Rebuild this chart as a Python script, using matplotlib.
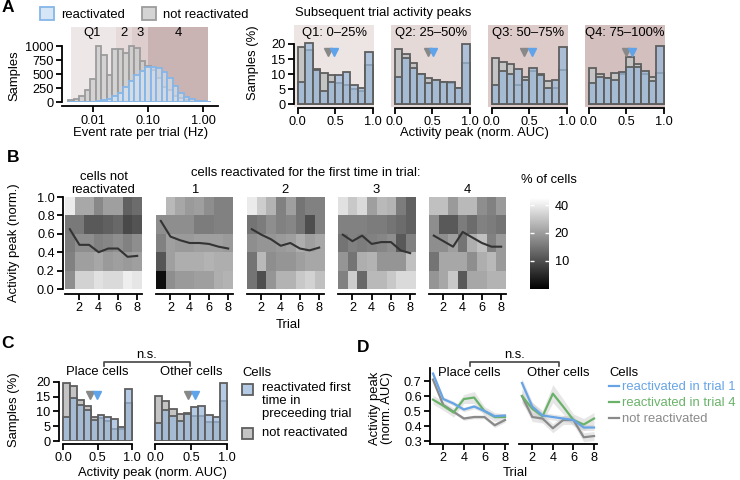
import matplotlib
matplotlib.use('Agg')
import matplotlib.pyplot as plt
from matplotlib.colors import LogNorm
from matplotlib.patches import Patch, Rectangle
from matplotlib.lines import Line2D
from matplotlib.ticker import NullLocator
import numpy as np

plt.rcParams['font.family'] = ['Liberation Sans', 'DejaVu Sans']
plt.rcParams['font.size'] = 9.3
FS = 9.4   # general text
TS = 9.2   # tick labels

# ---- data ----
# A left: event rate histograms (log bins of 0.1 decade starting at 10^-2.45)
rate_not_react = [40, 65, 110, 220, 410, 1000, 840, 490, 950, 950, 870, 1000, 970,
                  730, 640, 580, 430, 280, 220, 110, 70, 40, 10, 0, 0, 0]
rate_react = [0, 0, 3, 5, 10, 20, 35, 60, 110, 170, 270, 380, 480, 560, 620, 620,
              610, 540, 430, 290, 170, 100, 55, 30, 15, 8]
quartile_edges = [0.004, 0.026, 0.051, 0.1, 1.23]
quartile_names = ['Q1', '2', '3', '4']

# A right: activity peaks per quartile
q_titles = ['Q1: 0–25%', 'Q2: 25–50%', 'Q3: 50–75%', 'Q4: 75–100%']
q_not_react = [
    [19.0, 18.1, 11.7, 10.3, 9.6, 7.0, 6.3, 5.2, 4.4, 13.0],
    [18.3, 16.6, 13.8, 9.9, 8.8, 8.0, 7.3, 7.0, 5.4, 13.6],
    [15.5, 14.0, 13.4, 6.5, 8.9, 11.0, 10.2, 7.8, 5.5, 11.5],
    [11.9, 10.0, 8.8, 10.4, 10.2, 15.8, 13.4, 10.0, 9.1, 10.4]]
q_react = [
    [7.5, 20.3, 11.5, 4.5, 7.3, 9.8, 10.8, 6.5, 5.4, 17.2],
    [9.0, 15.3, 12.2, 9.9, 7.1, 8.0, 7.3, 7.3, 5.4, 20.0],
    [6.5, 11.1, 10.0, 11.6, 8.0, 12.1, 9.6, 5.5, 8.0, 19.1],
    [7.1, 9.1, 8.8, 8.0, 10.8, 12.5, 12.5, 11.1, 7.6, 19.4]]
q_med_not = [0.41, 0.45, 0.43, 0.50]
q_med_react = [0.49, 0.51, 0.54, 0.58]

# B: % of cells per activity-peak bin (rows: 0-0.2 ... 0.8-1.0) x trial 1..8
heat_titles = ['cells not\nreactivated', '1', '2', '3', '4']
heat_not = [[17.4, 32, 32, 36.6, 34.3, 34.3, 41, 38.3],
            [15.5, 20.3, 20.3, 21.8, 19.4, 20.3, 19.4, 20.3],
            [14.8, 17.4, 17.4, 15.5, 16.2, 17.4, 15.5, 17.4],
            [14.5, 14.5, 11, 11, 11.6, 12.4, 9.4, 10.3],
            [40, 22, 22, 16.6, 20.3, 20.3, 11.8, 12.9]]
heat_t1 = [[5.6, 17.4, 19.4, 19.4, 20.3, 20.3, 23.3, 24.4],
           [10.5, 20.3, 23.3, 23.3, 23.3, 24.4, 23.3, 23.3],
           [15.5, 20.3, 19.4, 19.4, 20.3, 20.3, 20.3, 19.4],
           [17.4, 17.4, 17.4, 17.4, 14.8, 14.8, 15.5, 15.5],
           [55, 25.5, 21.8, 19.4, 20.3, 17.4, 15.5, 15.5]]
heat_t2 = [[13.8, 9.9, 18.6, 24.4, 24.4, 29.2, 32, 27.3],
           [13.8, 25.5, 17.4, 18.6, 18.6, 20.3, 21.8, 21.8],
           [17.4, 18.6, 18.6, 19.4, 20.3, 23.3, 20.3, 21.8],
           [13.8, 14.8, 17.4, 15.5, 16.2, 13.8, 9.9, 15.5],
           [40, 30.6, 24.4, 15.5, 20.3, 13.8, 15.5, 15.5]]
heat_t3 = [[15.5, 30.6, 12.4, 25.5, 25.5, 29.2, 34.3, 34.3],
           [18.6, 13.8, 23.3, 24.4, 18.6, 18.6, 18.6, 27.3],
           [13.8, 15.5, 14.8, 15.5, 16.2, 17.4, 11, 15.5],
           [15.5, 15.5, 15.5, 14.8, 14.8, 13.8, 12.9, 11.8],
           [36.6, 29.2, 34.3, 20.3, 25.5, 24.4, 14.8, 11.8]]
heat_t4 = [[18.6, 21.8, 29.2, 11, 21.8, 21.8, 24.4, 24.4],
           [13.8, 21.8, 21.8, 21.8, 17.4, 23.3, 25.5, 19.4],
           [17.4, 17.4, 20.3, 13.8, 23.3, 27.3, 15.5, 19.4],
           [17.4, 11, 11, 14.8, 12.9, 15.5, 14.8, 13.8],
           [27.3, 27.3, 19.4, 25.5, 25.5, 17.4, 15.5, 19.4]]
mean_not = [0.65, 0.48, 0.48, 0.40, 0.44, 0.44, 0.35, 0.36]
mean_t1 = [0.74, 0.57, 0.53, 0.50, 0.50, 0.49, 0.46, 0.44]
mean_t2 = [0.65, 0.59, 0.54, 0.47, 0.50, 0.44, 0.42, 0.45]
mean_t3 = [0.59, 0.52, 0.58, 0.49, 0.51, 0.51, 0.42, 0.39]
mean_t4 = [0.58, 0.52, 0.46, 0.62, 0.56, 0.50, 0.46, 0.46]
trials = [1, 2, 3, 4, 5, 6, 7, 8]

# C: place vs other cells
place_not = [19.7, 18.5, 13.8, 11.9, 8.0, 7.9, 6.8, 4.2, 4.2, 13.0]
place_react = [8.2, 14.5, 12.1, 10.4, 7.1, 8.7, 8.0, 7.3, 4.6, 17.5]
other_not = [15.2, 13.6, 10.8, 9.3, 9.6, 8.4, 8.4, 6.3, 6.3, 13.6]
other_react = [6.2, 10.5, 8.4, 6.9, 9.1, 11.6, 11.8, 8.8, 8.0, 19.7]
c_med_not = [0.39, 0.46]
c_med_react = [0.49, 0.56]

# D: mean activity peak per trial (and sem)
place_t1 = [0.75, 0.58, 0.55, 0.51, 0.53, 0.50, 0.465, 0.47]
place_t4 = [0.576, 0.535, 0.49, 0.58, 0.59, 0.50, 0.46, 0.46]
place_nr = [0.71, 0.54, 0.495, 0.45, 0.46, 0.46, 0.405, 0.44]
other_t1 = [0.687, 0.53, 0.47, 0.46, 0.45, 0.44, 0.39, 0.39]
other_t4 = [0.60, 0.515, 0.465, 0.616, 0.53, 0.44, 0.41, 0.45]
other_nr = [0.60, 0.46, 0.45, 0.385, 0.44, 0.44, 0.325, 0.333]
place_t1_sem = [0.02, 0.015, 0.015, 0.015, 0.015, 0.015, 0.015, 0.015]
place_t4_sem = [0.03, 0.03, 0.03, 0.03, 0.04, 0.03, 0.03, 0.02]
place_nr_sem = [0.02, 0.015, 0.012, 0.012, 0.012, 0.012, 0.015, 0.015]
other_t1_sem = [0.03, 0.03, 0.02, 0.02, 0.02, 0.02, 0.02, 0.02]
other_t4_sem = [0.05, 0.04, 0.04, 0.06, 0.05, 0.04, 0.04, 0.04]
other_nr_sem = [0.04, 0.03, 0.03, 0.03, 0.03, 0.03, 0.03, 0.03]

# ---- helpers ----
W, H = 740, 480
def rect(x0, y0, x1, y1):
    return [x0 / W, 1 - y1 / H, (x1 - x0) / W, (y1 - y0) / H]

def fx(x):
    return x / W

def fy(y):
    return 1 - y / H

def style(ax, left=True, lpad=0, bpad=0):
    ax.spines['top'].set_visible(False)
    ax.spines['right'].set_visible(False)
    for s in ('left', 'bottom'):
        ax.spines[s].set_linewidth(1.3)
    ax.spines['left'].set_position(('outward', lpad * 0.72))
    ax.spines['bottom'].set_position(('outward', bpad * 0.72))
    ax.tick_params(width=1.3, length=4, labelsize=TS, pad=2)
    if not left:
        ax.spines['left'].set_visible(False)
        ax.tick_params(left=False, labelleft=False)

GRAY_FC = '#c4c4c4'
BLUE_FC = (0.60, 0.72, 0.86, 0.72)
EDGE = '#5e5e5e'
centers = np.arange(10) * 0.1 + 0.05

def peak_hist(ax, nr, re, med_nr, med_re, ytri):
    ax.bar(centers, nr, width=0.1, color=GRAY_FC, edgecolor=EDGE, lw=1.3)
    ax.bar(centers, re, width=0.1, color=BLUE_FC, edgecolor=EDGE, lw=1.3)
    ax.plot([med_nr], [ytri], marker='v', ms=6, color='#888888', ls='none')
    ax.plot([med_re], [ytri], marker='v', ms=6, color='#5fa3ea', ls='none')
    ax.set_xticks([0, 0.5, 1.0])
    ax.set_xticklabels(['0.0', '0.5', '1.0'])
    ax.spines['bottom'].set_bounds(0, 1)

fig = plt.figure(figsize=(7.4, 4.8), dpi=100)

# ---- panel A left ----
ax = fig.add_axes(rect(62, 27, 218, 102.3))
style(ax, bpad=4)
ax.set_xscale('log')
ax.set_xlim(10 ** -2.564, 10 ** 0.273)
ax.set_ylim(0, 1340)
shade = ['#eee7e7', '#e6dada', '#ddcdcd', '#cab3b3']
q_label_x = [0.0095, 0.036, 0.072, 0.35]
for i in range(4):
    ax.axvspan(quartile_edges[i], quartile_edges[i + 1], color=shade[i], lw=0, zorder=0)
    ax.text(q_label_x[i], 0.92, quartile_names[i], transform=ax.get_xaxis_transform(),
            ha='center', va='center', fontsize=FS)
left_e = 10 ** (np.arange(26) * 0.1 - 2.45)
right_e = 10 ** (np.arange(1, 27) * 0.1 - 2.45)
ax.bar(left_e, rate_not_react, width=right_e - left_e, align='edge',
       color=(0.8, 0.8, 0.8, 0.75), edgecolor='#9c9c9c', lw=1.3)
ax.bar(left_e, rate_react, width=right_e - left_e, align='edge',
       color=(0.84, 0.91, 0.98, 0.55), edgecolor='#86b6e8', lw=1.3)
ax.set_yticks([0, 250, 500, 750, 1000])
ax.spines['left'].set_bounds(0, 1000)
ax.set_xticks([0.01, 0.1, 1.0])
ax.set_xticklabels(['0.01', '0.10', '1.00'])
ax.xaxis.set_minor_locator(NullLocator())
fig.text(fx(14), fy(76), 'Samples', rotation=90, ha='center', va='center', fontsize=FS)
fig.text(fx(141), fy(133), 'Event rate per trial (Hz)', ha='center', va='center', fontsize=FS)
fig.legend([Patch(fc='#d6e6f7', ec='#86b6e8', lw=1.3), Patch(fc='#d4d4d4', ec='#9c9c9c', lw=1.3)],
           ['reactivated', 'not reactivated'], ncol=2, frameon=False,
           loc='center left', bbox_to_anchor=(fx(40), fy(14)), borderpad=0, borderaxespad=0,
           handlelength=1.1, handleheight=1.1, handletextpad=0.5, columnspacing=1.3,
           fontsize=FS)

# ---- panel A right ----
q_bg = ['#ede5e3', '#e5d9d7', '#dccbc9', '#d3bfbd']
for i in range(4):
    x0 = 294 + 97 * i
    ax = fig.add_axes(rect(x0, 25, x0 + 80, 107))
    style(ax, left=(i == 0), bpad=1)
    ax.set_facecolor(q_bg[i])
    peak_hist(ax, q_not_react[i], q_react[i], q_med_not[i], q_med_react[i], 17.2)
    ax.set_xlim(-0.05, 1.02)
    ax.set_ylim(-0.9, 26.3)
    ax.set_yticks([0, 5, 10, 15, 20])
    ax.spines['left'].set_bounds(0, 20)
    ax.text(0.5, 0.9, q_titles[i], transform=ax.transAxes, ha='center', va='center', fontsize=FS)
fig.text(fx(295), fy(13), 'Subsequent trial activity peaks', ha='left', va='center', fontsize=FS)
fig.text(fx(253), fy(63), 'Samples (%)', rotation=90, ha='center', va='center', fontsize=FS)
fig.text(fx(474), fy(133), 'Activity peak (norm. AUC)', ha='center', va='center', fontsize=FS)

# ---- panel B ----
heats = [heat_not, heat_t1, heat_t2, heat_t3, heat_t4]
means = [mean_not, mean_t1, mean_t2, mean_t3, mean_t4]
norm = LogNorm(vmin=4.9, vmax=48)
for i in range(5):
    x0 = [65, 156, 247, 338, 429][i]
    ax = fig.add_axes(rect(x0, 197, x0 + 77, 289))
    style(ax, left=(i == 0), lpad=2, bpad=5)
    im = ax.imshow(np.array(heats[i]), origin='lower', extent=(0.5, 8.5, 0, 1),
                   aspect='auto', cmap='gray', norm=norm, interpolation='nearest')
    ax.plot(trials, means[i], color='#333333', lw=1.5)
    ax.set_xlim(0.5, 8.5)
    ax.set_ylim(0, 1)
    ax.set_xticks([2, 4, 6, 8])
    ax.set_yticks([0, 0.2, 0.4, 0.6, 0.8, 1.0])
    ax.set_yticklabels(['0.0', '0.2', '0.4', '0.6', '0.8', '1.0'])
    ax.set_title(heat_titles[i], fontsize=FS, pad=3, linespacing=1.05)
fig.text(fx(191), fy(173), 'cells reactivated for the first time in trial:', ha='left',
         va='center', fontsize=FS)
cax = fig.add_axes(rect(530, 198, 549, 289))
cb = fig.colorbar(im, cax=cax, ticks=[10, 20, 40])
cb.outline.set_visible(False)
cax.yaxis.set_minor_locator(NullLocator())
cax.set_yticklabels(['10', '20', '40'])
cax.tick_params(color='white', direction='in', length=3, width=1, left=True, right=True,
                labelsize=TS, pad=4)
fig.text(fx(549), fy(180), '% of cells', ha='center', va='center', fontsize=FS)
fig.text(fx(14), fy(243), 'Activity peak (norm.)', rotation=90, ha='center', va='center',
         fontsize=FS)
fig.text(fx(288), fy(325), 'Trial', ha='center', va='center', fontsize=FS)

# ---- panel C ----
c_axes = [rect(61, 379, 134, 441), rect(153, 379, 229, 441)]
c_data = [(place_not, place_react), (other_not, other_react)]
for i, name in enumerate(['Place cells', 'Other cells']):
    ax = fig.add_axes(c_axes[i])
    style(ax, left=(i == 0), lpad=2, bpad=3)
    peak_hist(ax, c_data[i][0], c_data[i][1], c_med_not[i], c_med_react[i], 15.5)
    ax.set_xlim(-0.03, 1.03)
    ax.set_ylim(0, 21)
    ax.set_yticks([0, 5, 10, 15, 20])
    ax.spines['left'].set_bounds(0, 20)
    ax.text(0.5, 1.02, name, transform=ax.transAxes, ha='center', va='bottom', fontsize=FS)
fig.text(fx(14), fy(410), 'Samples (%)', rotation=90, ha='center', va='center', fontsize=FS)
fig.text(fx(152), fy(473), 'Activity peak (norm. AUC)', ha='center', va='center', fontsize=FS)

def bracket(x0, x1, y, xt):
    fig.add_artist(Line2D([fx(x0), fx(x0), fx(x1), fx(x1)], [fy(366), fy(y), fy(y), fy(366)],
                          color='#444444', lw=1.2, transform=fig.transFigure))
    fig.text(fx(xt), fy(y - 1), 'n.s.', ha='center', va='bottom', fontsize=FS)

bracket(104, 190, 362, 147)

# legend C
fig.text(fx(242), fy(373), 'Cells', ha='left', va='center', fontsize=FS)
fig.add_artist(Rectangle((fx(242), fy(395)), 11 / W, 11 / H, transform=fig.transFigure,
                         fc=BLUE_FC, ec=EDGE, lw=1.3))
fig.add_artist(Rectangle((fx(242), fy(439)), 11 / W, 11 / H, transform=fig.transFigure,
                         fc=GRAY_FC, ec=EDGE, lw=1.3))
fig.text(fx(262), fy(382), 'reactivated first\ntime in\npreceeding trial', ha='left', va='top',
         fontsize=FS, linespacing=1.12)
fig.text(fx(262), fy(433), 'not reactivated', ha='left', va='center', fontsize=FS)

# ---- panel D ----
BLUE = '#67a4e6'
GREEN = '#6ab26a'
GREY = '#8a8a8a'
d_axes = [rect(430, 368, 508, 444), rect(519, 368, 597, 444)]
d_data = [((place_t1, place_t1_sem), (place_t4, place_t4_sem), (place_nr, place_nr_sem)),
          ((other_t1, other_t1_sem), (other_t4, other_t4_sem), (other_nr, other_nr_sem))]
for i, name in enumerate(['Place cells', 'Other cells']):
    ax = fig.add_axes(d_axes[i])
    style(ax, left=(i == 0))
    for (m, s) in d_data[i]:
        m = np.array(m)
        s = np.array(s)
        ax.fill_between(trials, m - s, m + s, color='#c8c8c8', alpha=0.45, lw=0)
    for (m, s), c in zip(d_data[i][::-1], [GREY, GREEN, BLUE]):
        ax.plot(trials, m, color=c, lw=1.6)
    ax.set_xlim(0.71, 8.29)
    ax.set_ylim(0.28, 0.787)
    ax.set_xticks([2, 4, 6, 8])
    ax.set_yticks([0.3, 0.4, 0.5, 0.6, 0.7])
    ax.text(0.5, 0.93, name, transform=ax.transAxes, ha='center', va='center', fontsize=FS)
fig.text(fx(381), fy(408), 'Activity peak\n(norm. AUC)', rotation=90, ha='center',
         va='center', linespacing=1.0, fontsize=FS)
fig.text(fx(515), fy(473), 'Trial', ha='center', va='center', fontsize=FS)
bracket(470, 559, 362, 515)
fig.text(fx(609), fy(373), 'Cells', ha='left', va='center', fontsize=FS)
fig.legend([Line2D([], [], color=BLUE, lw=1.6), Line2D([], [], color=GREEN, lw=1.6),
            Line2D([], [], color=GREY, lw=1.6)],
           ['reactivated in trial 1', 'reactivated in trial 4', 'not reactivated'],
           loc='upper left', bbox_to_anchor=(fx(609), fy(381)),
           frameon=False, borderpad=0, borderaxespad=0,
           handlelength=0.75, handletextpad=0.25, labelspacing=0.3,
           labelcolor='linecolor', fontsize=FS)

# panel letters
for lab, (x, y) in zip('ABCD', [(2, 7), (7, 158), (1, 344), (357, 348)]):
    fig.text(fx(x), fy(y), lab, fontsize=12.5, fontweight='bold', ha='left', va='center')

fig.savefig('out.png', dpi=100)
